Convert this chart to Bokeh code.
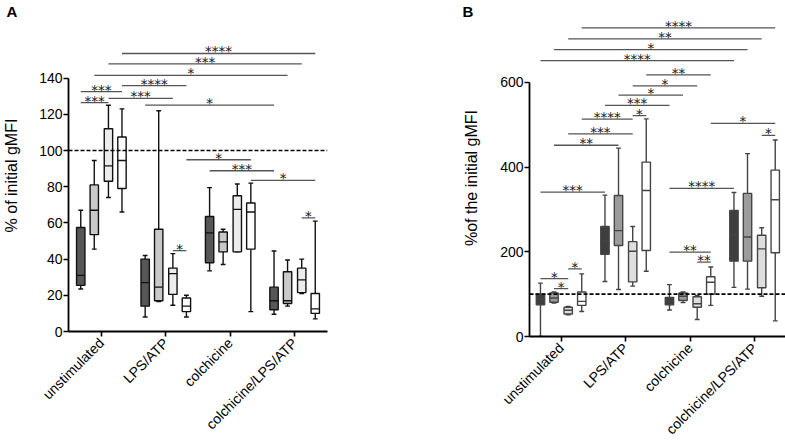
import math
from bokeh.plotting import figure
from bokeh.layouts import row
from bokeh.models import ColumnDataSource, FixedTicker, Span, Title
from bokeh.core.properties import value
from bokeh.embed import file_html
from bokeh.resources import INLINE

groups = ["unstimulated", "LPS/ATP", "colchicine", "colchicine/LPS/ATP"]

# Panel A: % of initial gMFI (4 boxes per group, group-major order)
a_low  = [23.5, 45.5, 74, 66,    8, 16.5, 14.5, 8,     33.5, 37, 44, 11,     9.5, 14, 21, 7]
a_q1   = [25.5, 53.5, 83, 79,    14, 17, 20.5, 11,     38, 44, 44, 45.5,     12, 15.5, 21.5, 10]
a_med  = [31, 67, 91.5, 94.5,    27, 24.5, 32, 14,     54.5, 49.5, 67.5, 66, 17, 17, 28.5, 12.5]
a_q3   = [57.5, 81, 112, 107.5,  40, 56.5, 35, 18.5,   63.5, 55, 75, 71,     24.5, 33, 35, 21]
a_high = [67, 94.5, 125, 123,    42, 122, 43, 20,      79.5, 56.5, 81.5, 82, 44.5, 39.5, 40, 61]

a_sig_g0 = [1, 1, 1, 1, 1, 1, 1, 2, 2, 3, 3, 4, 2]
a_sig_b0 = [3, 2, 1, 3, 0, 2, 0, 0, 3, 0, 3, 2, 2]
a_sig_g1 = [4, 4, 4, 2, 1, 2, 1, 4, 3, 4, 4, 4, 2]
a_sig_b1 = [3, 2, 1, 3, 3, 2, 2, 0, 3, 0, 3, 3, 3]
a_sig_y  = [153.6, 147.9, 141.5, 135.8, 132.5, 128.8, 126.4, 125.1, 94.9, 88.8, 83.5, 62.8, 44.7]
a_sig_lbl = ["****", "***", "*", "****", "***", "***", "***", "*", "*", "***", "*", "*", "*"]
a_ticks = [0, 20, 40, 60, 80, 100, 120, 140]

# Panel B: % of the initial gMFI
b_low  = [0, 79, 51, 59,       130, 111, 119, 154,   62.5, 80, 40, 73.5,   116, 112, 95, 37]
b_q1   = [75, 81, 53, 73.5,    194, 215, 129, 203,   75, 85, 69, 100,      178, 178, 115, 198]
b_med  = [88, 91, 62, 83,      225, 250, 201.5, 345, 84, 95, 77.5, 128,    240, 235, 207, 323]
b_q3   = [100, 103, 69, 105,   260, 333, 224, 412,   92.5, 103, 94, 141,   298, 338, 239, 393]
b_high = [126, 105, 71, 148,   334, 445, 260, 514,   122.5, 105, 97, 164,   340, 432, 257, 464]

b_sig_g0 = [1, 1, 1, 1, 2, 2, 2, 2, 2, 1, 1, 1, 3, 4, 1, 3, 3, 3, 1, 1, 1]
b_sig_b0 = [3, 2, 1, 0, 3, 2, 1, 0, 2, 3, 2, 1, 3, 2, 0, 0, 0, 2, 0, 1, 2]
b_sig_g1 = [4, 4, 4, 4, 3, 3, 3, 3, 2, 2, 2, 2, 4, 4, 2, 4, 3, 3, 1, 1, 1]
b_sig_b1 = [3, 2, 1, 0, 3, 2, 1, 0, 3, 2, 2, 1, 3, 3, 0, 0, 3, 3, 2, 2, 3]
b_sig_y  = [729, 703, 677.5, 651.7, 618, 592, 570, 545.8, 521.5, 513.7, 478.4, 451.7,
            503.5, 475, 341.2, 349.8, 199.2, 175.5, 136.8, 113, 159.7]
b_sig_lbl = ["****", "**", "*", "****", "**", "*", "*", "***", "*", "****", "***", "**",
             "*", "*", "***", "****", "**", "**", "*", "*", "*"]
b_ticks = [0, 200, 400, 600]

OFFS = [-0.32, -0.11, 0.11, 0.32]
BOXW = 0.13
CAPW = 0.075
FONT = "Liberation Sans"
TOP = 18  # common top border (frames are aligned at the top in a row)


def make_panel(low, q1, med, q3, high, sg0, sb0, sg1, sb1, sy, slbl, ticks,
               colors, outline, ylabel, px_per_unit, bottom_px, xr, frame_w,
               bl, bb, br, panel_letter, letter_offset, label_standoff):
    frame_h = bottom_px - TOP
    yend = frame_h / px_per_unit
    p = figure(frame_width=frame_w, frame_height=frame_h,
               x_range=xr, y_range=(0, yend), title=None,
               output_backend="svg", toolbar_location=None,
               min_border_left=bl, min_border_top=TOP,
               min_border_bottom=bb, min_border_right=br)
    p.outline_line_color = None
    p.xgrid.visible = False
    p.ygrid.visible = False
    p.background_fill_color = "white"

    n = len(low)
    xs = [(i // 4) + 1 + OFFS[i % 4] for i in range(n)]
    cols = [colors[i % 4] for i in range(n)]
    src = ColumnDataSource(dict(x=xs, low=low, q1=q1, med=med, q3=q3, high=high,
                                c=cols,
                                xl=[x - BOXW / 2 for x in xs], xr=[x + BOXW / 2 for x in xs],
                                cl=[x - CAPW / 2 for x in xs], cr=[x + CAPW / 2 for x in xs]))

    # significance bars
    sx0 = [g + OFFS[b] for g, b in zip(sg0, sb0)]
    sx1 = [g + OFFS[b] for g, b in zip(sg1, sb1)]
    ssrc = ColumnDataSource(dict(x0=sx0, x1=sx1, y=sy, lbl=slbl,
                                 xm=[(a + b) / 2 for a, b in zip(sx0, sx1)]))
    p.segment(x0="x0", y0="y", x1="x1", y1="y", source=ssrc,
              line_color="#555555", line_width=1.3)
    p.text(x="xm", y="y", text="lbl", source=ssrc,
           text_font=value("DejaVu Sans"), text_font_size=value("13.5px"),
           text_align="center", text_baseline="alphabetic", y_offset=-2,
           text_color="#222222")

    # whiskers
    p.segment(x0="x", y0="low", x1="x", y1="q1", source=src, line_color=outline, line_width=1.4)
    p.segment(x0="x", y0="q3", x1="x", y1="high", source=src, line_color=outline, line_width=1.4)
    p.segment(x0="cl", y0="low", x1="cr", y1="low", source=src, line_color=outline, line_width=1.4)
    p.segment(x0="cl", y0="high", x1="cr", y1="high", source=src, line_color=outline, line_width=1.4)
    # boxes
    p.vbar(x="x", width=BOXW, bottom="q1", top="q3", source=src,
           fill_color="c", line_color=outline, line_width=1.4)
    p.segment(x0="xl", y0="med", x1="xr", y1="med", source=src, line_color=outline, line_width=1.4)

    p.add_layout(Span(location=100, dimension="width", line_color="black",
                      line_dash="4 2", line_width=1.6))

    # axes
    p.xaxis.ticker = FixedTicker(ticks=[1, 2, 3, 4])
    p.xaxis.major_label_overrides = {i + 1: g for i, g in enumerate(groups)}
    p.xaxis.major_label_orientation = math.pi / 4
    p.yaxis.ticker = FixedTicker(ticks=ticks)
    p.yaxis.bounds = (ticks[0], ticks[-1])
    for ax in (p.xaxis, p.yaxis):
        ax.axis_line_width = 1.8
        ax.axis_line_color = "black"
        ax.major_tick_line_width = 1.6
        ax.major_tick_line_color = "black"
        ax.major_tick_out = 5
        ax.major_tick_in = 0
        ax.minor_tick_line_color = None
        ax.major_label_text_font = FONT
        ax.major_label_text_color = "black"
    p.yaxis.major_label_standoff = 1
    p.xaxis.major_label_standoff = 4
    p.xaxis.major_label_text_font_size = "14px"
    p.yaxis.major_label_text_font_size = "14px"
    p.yaxis.axis_label = ylabel
    p.yaxis.axis_label_text_font = FONT
    p.yaxis.axis_label_text_font_style = "normal"
    p.yaxis.axis_label_text_font_size = "16px"
    p.yaxis.axis_label_text_color = "black"
    p.yaxis.axis_label_standoff = label_standoff

    p.add_layout(Title(text=panel_letter, align="left", offset=letter_offset, standoff=0,
                       text_font=FONT, text_font_style="bold", text_font_size="15px",
                       text_color="black"), "above")
    return p


pA = make_panel(a_low, a_q1, a_med, a_q3, a_high,
                a_sig_g0, a_sig_b0, a_sig_g1, a_sig_b1, a_sig_y, a_sig_lbl, a_ticks,
                ["#575757", "#c9c9c9", "#ececec", "#ffffff"], "#111111",
                "% of initial gMFI", 36.2 / 20, 330, (0.49, 4.51), 259,
                64, 108, 97, "A", -62, 16)

pB = make_panel(b_low, b_q1, b_med, b_q3, b_high,
                b_sig_g0, b_sig_b0, b_sig_g1, b_sig_b1, b_sig_y, b_sig_lbl, b_ticks,
                ["#3e3e3e", "#9b9b9b", "#dedede", "#ffffff"], "#444444",
                "%of the initial gMFI", 84.67 / 200, 335, (0.51, 4.51), 258,
                105, 107, 2, "B", -67, 17)

layout = row(pA, pB)
open("out.html", "w").write(file_html(layout, INLINE))
